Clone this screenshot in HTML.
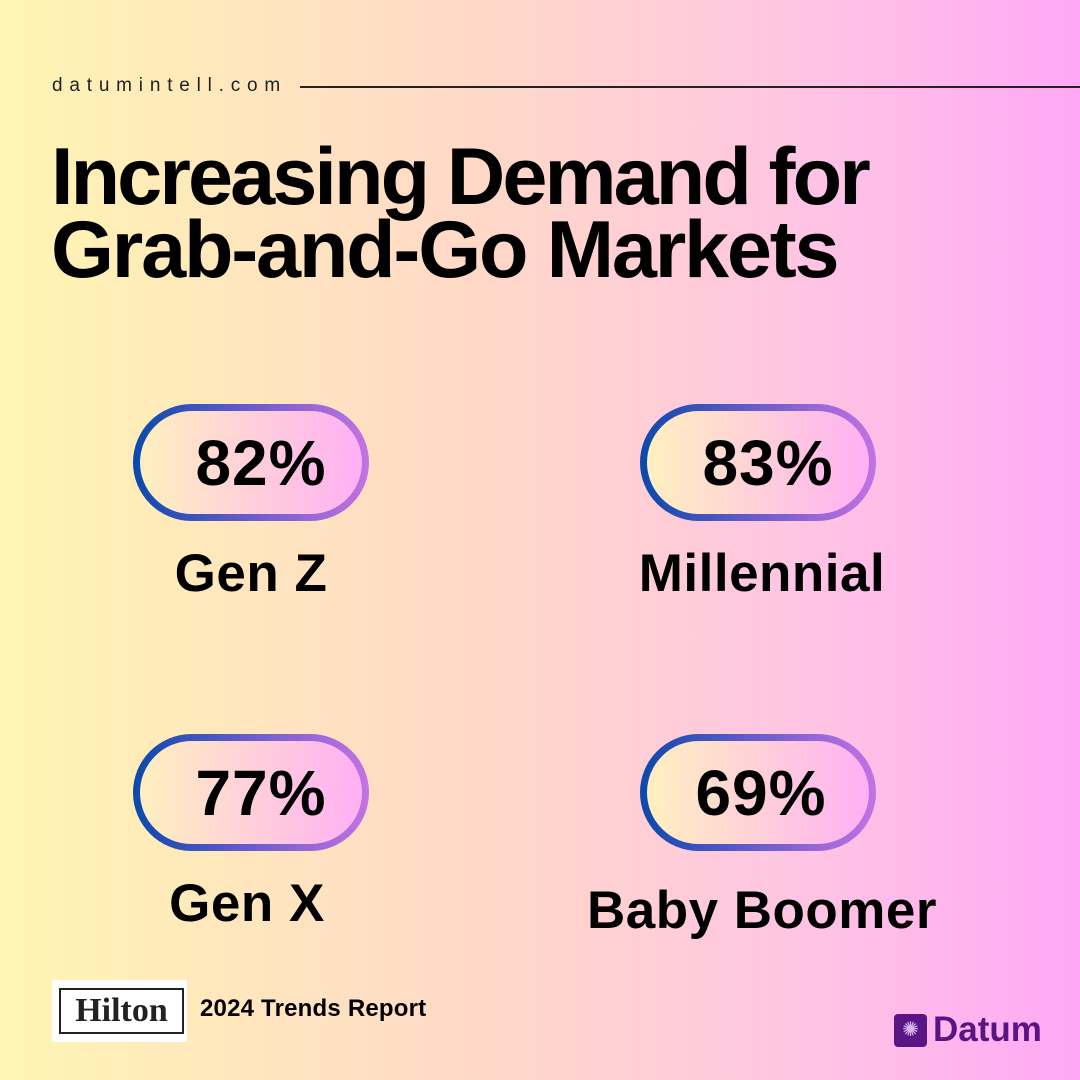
<!DOCTYPE html>
<html><head><meta charset="utf-8"><style>
*{margin:0;padding:0;box-sizing:border-box}
body{width:1080px;height:1080px;overflow:hidden;font-family:"Liberation Sans",sans-serif}
#page{position:relative;width:1080px;height:1080px;background:linear-gradient(90deg,#fff5b3 0%,#ffd8c8 45%,#ffc4e4 75%,#ffa8f6 100%)}
.abs{position:absolute}
.site{left:52px;top:75px;font-size:19px;letter-spacing:6.8px;color:#222}
.rule{left:300px;top:86px;width:780px;height:1.5px;background:#222}
.title{left:51px;top:141px;font-size:81px;font-weight:bold;line-height:73px;letter-spacing:-2.9px;color:#000}
.pill{width:236px;height:117px;border-radius:60px;border:7px solid transparent;
background:linear-gradient(90deg,#fff0c0,#ffb0f4) padding-box,linear-gradient(90deg,#0b49ac,#6a5ccc 50%,#c472e2) border-box;
display:flex;align-items:center;justify-content:center;font-size:64px;font-weight:bold;color:#000;padding-left:20px;letter-spacing:1px}
.lab{font-size:53px;font-weight:bold;color:#000;text-align:center;width:420px;letter-spacing:0.5px}
</style></head><body>
<div id="page">
<div class="abs site">datumintell.com</div>
<div class="abs rule"></div>
<div class="abs title">Increasing Demand for<br><span style="letter-spacing:-2.2px">Grab-and-Go Markets</span></div>

<div class="abs pill" style="left:133px;top:404px">82%</div>
<div class="abs lab" style="left:41px;top:543px">Gen Z</div>
<div class="abs pill" style="left:640px;top:404px">83%</div>
<div class="abs lab" style="left:552px;top:543px">Millennial</div>
<div class="abs pill" style="left:133px;top:734px">77%</div>
<div class="abs lab" style="left:37px;top:873px">Gen X</div>
<div class="abs pill" style="left:640px;top:734px;padding-left:6px">69%</div>
<div class="abs lab" style="left:552px;top:880px">Baby Boomer</div>

<div class="abs" style="left:52px;top:980px;width:135px;height:62px;background:#fff">
<div style="position:absolute;left:7px;top:8px;width:125px;height:46px;border:2px solid #222;font-family:'Liberation Serif',serif;font-size:34px;font-weight:bold;color:#222;text-align:center;line-height:42px">Hilton</div></div>
<div class="abs" style="left:200px;top:995px;font-size:24px;font-weight:bold;color:#000;letter-spacing:0.2px">2024 Trends Report</div>

<div class="abs" style="left:894px;top:1014px;width:33px;height:33px;border-radius:4px;background:#5a1585;color:#d8b8f0;font-size:20px;text-align:center;line-height:33px">✺</div>
<div class="abs" style="left:933px;top:1010px;font-size:35px;font-weight:bold;color:#5a1585">Datum</div>
</div>
</body></html>
